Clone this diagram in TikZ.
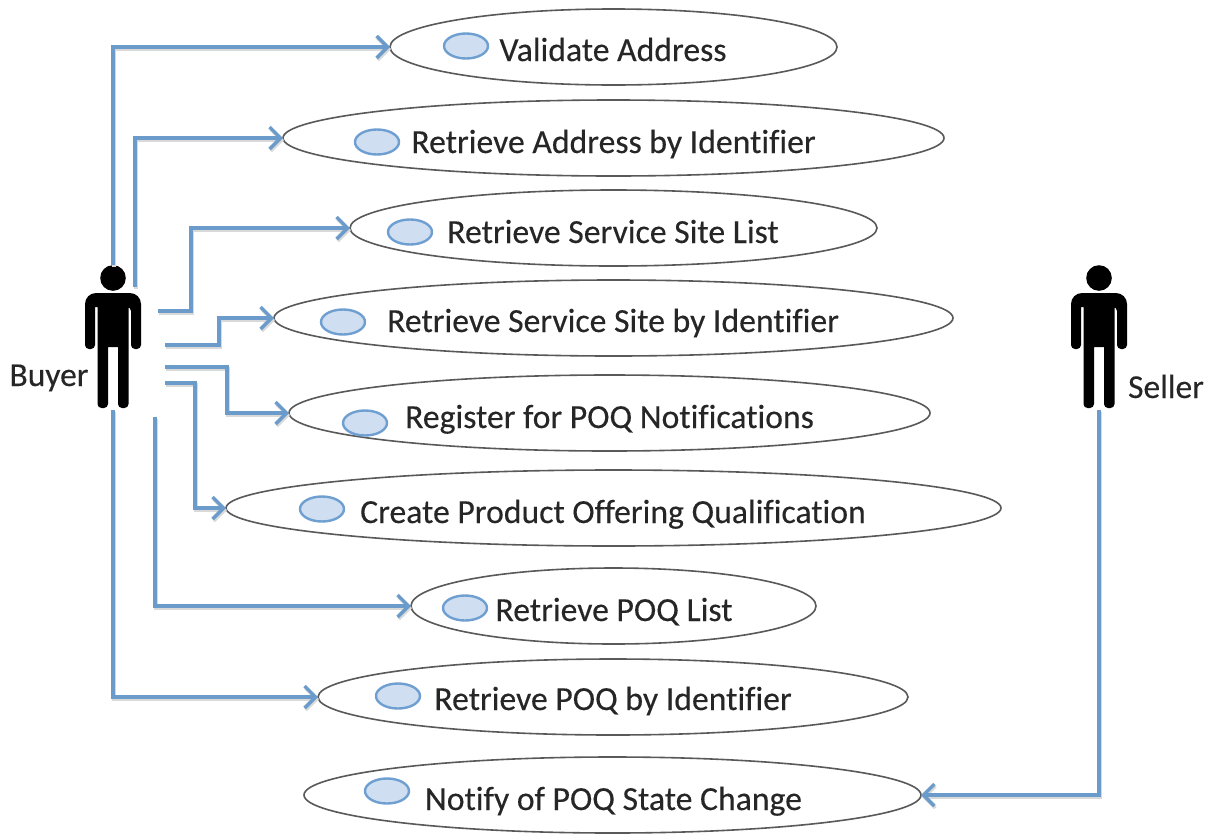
\documentclass[tikz,border=0pt]{standalone}
\usepackage{fontspec}
\setmainfont[Ligatures=NoCommon,FakeBold=0.25]{Carlito}
\usetikzlibrary{arrows.meta}
\definecolor{conn}{HTML}{6A9BCB}
\definecolor{ucfill}{HTML}{CFDFF1}
\definecolor{ucline}{HTML}{6E9FD0}
\definecolor{ink}{HTML}{262626}
\tikzset{
  x=1pt,y=-1pt,
  usecase/.style={draw=black!65,line width=1.6pt,fill=white},
  uclabel/.style={font=\fontsize{33.7}{36}\selectfont,text=ink,anchor=base,inner sep=0pt},
  actorlabel/.style={font=\fontsize{33.5}{36}\selectfont,text=ink,anchor=base,inner sep=0pt},
  icon/.style={draw=ucline,line width=2.4pt,fill=ucfill},
  link/.style={draw=conn,line width=3.4pt,line join=miter,-{Straight Barb[length=11pt,width=22pt,line width=3.4pt]},
    preaction={draw=black!15,line width=3.8pt,transform canvas={xshift=1pt,yshift=-2pt},-{Straight Barb[length=11pt,width=22pt,line width=3.4pt]}}},
}
\newcommand{\usecasebox}[5]{% name, cx, cy, rx, ry
  \path[usecase] (#2,#3) ellipse [x radius=#4,y radius=#5];
  \coordinate (#1W) at (#2-#4,#3);
  \coordinate (#1E) at (#2+#4,#3);
}
\newcommand{\ucicon}[2]{\path[icon] (#1,#2) ellipse [x radius=22,y radius=12.5];}
\newcommand{\stickman}[1]{%
  \begin{scope}[shift={(#1,0)}]
    \fill[black] (0,278) circle [radius=12.8];
    \fill[black,rounded corners=4pt]
      (-28,349) [rounded corners=11pt] -- (-28,293) -- (28,293)
      [rounded corners=4pt] -- (28,349) -- (18,349) -- (18,307) [sharp corners] -- (15.5,307)
      [rounded corners=4pt] -- (15.5,408) -- (5,408) [sharp corners] -- (5,347) -- (-5,347)
      [rounded corners=4pt] -- (-5,408) -- (-15.5,408) [sharp corners] -- (-15.5,307) -- (-18,307)
      [rounded corners=4pt] -- (-18,349) -- cycle;
  \end{scope}}
\begin{document}
\begin{tikzpicture}
\useasboundingbox (0,0) rectangle (1210,833);
\fill[white] (0,0) rectangle (1210,833);

\usecasebox{va}{613.5}{47}{223.5}{38}
\usecasebox{ra}{613.5}{138}{330.5}{38}
\usecasebox{sl}{613.5}{228}{263.5}{38}
\usecasebox{si}{613.5}{318}{339.5}{38}
\usecasebox{rg}{609.5}{413}{320.5}{38}
\usecasebox{cp}{613.5}{508}{387.5}{38}
\usecasebox{pl}{613.5}{606}{202.5}{38}
\usecasebox{pi}{613}{697}{295}{38}
\usecasebox{nt}{612.5}{795}{308.5}{38}

\ucicon{466}{46}
\ucicon{377}{142}
\ucicon{410}{232}
\ucicon{343}{322}
\ucicon{365}{423}
\ucicon{322}{509}
\ucicon{465}{608}
\ucicon{398}{696}
\ucicon{387}{791}

\node[uclabel] (tva) at (613,61) {Validate Address};
\node[uclabel] (tra) at (613.5,153) {Retrieve Address by Identifier};
\node[uclabel] (tsl) at (613,243) {Retrieve Service Site List};
\node[uclabel] (tsi) at (613,332) {Retrieve Service Site by Identifier};
\node[uclabel] (trg) at (609.5,428) {Register for POQ Notifications};
\node[uclabel] (tcp) at (613,523) {Create Product Offering Qualification};
\node[uclabel] (tpl) at (614,621) {Retrieve POQ List};
\node[uclabel] (tpi) at (613,710) {Retrieve POQ by Identifier};
\node[uclabel] (tnt) at (613.5,810) {Notify of POQ State Change};

\stickman{113}
\stickman{1099}
\node[actorlabel] (buyer) at (49,386) {Buyer};
\node[actorlabel] (seller) at (1166,398) {Seller};

\coordinate (b1) at (113,265);
\coordinate (b2) at (135,287);
\coordinate (b3) at (158,311);
\coordinate (b4) at (165,345);
\coordinate (b5) at (165,367);
\coordinate (b6) at (165,383);
\coordinate (b7) at (155,417);
\coordinate (b8) at (113,410);
\coordinate (s1) at (1099,410);

\draw[link] (b1) |- (vaW);
\draw[link] (b2) |- (raW);
\draw[link] (b3) -- (191,311) |- (slW);
\draw[link] (b4) -- (219,345) |- (siW);
\draw[link] (b5) -- (227,367) |- (rgW);
\draw[link] (b6) -- (195,383) |- (cpW);
\draw[link] (b7) |- (plW);
\draw[link] (b8) |- (piW);
\draw[link] (s1) |- (ntE);
\end{tikzpicture}
\end{document}
